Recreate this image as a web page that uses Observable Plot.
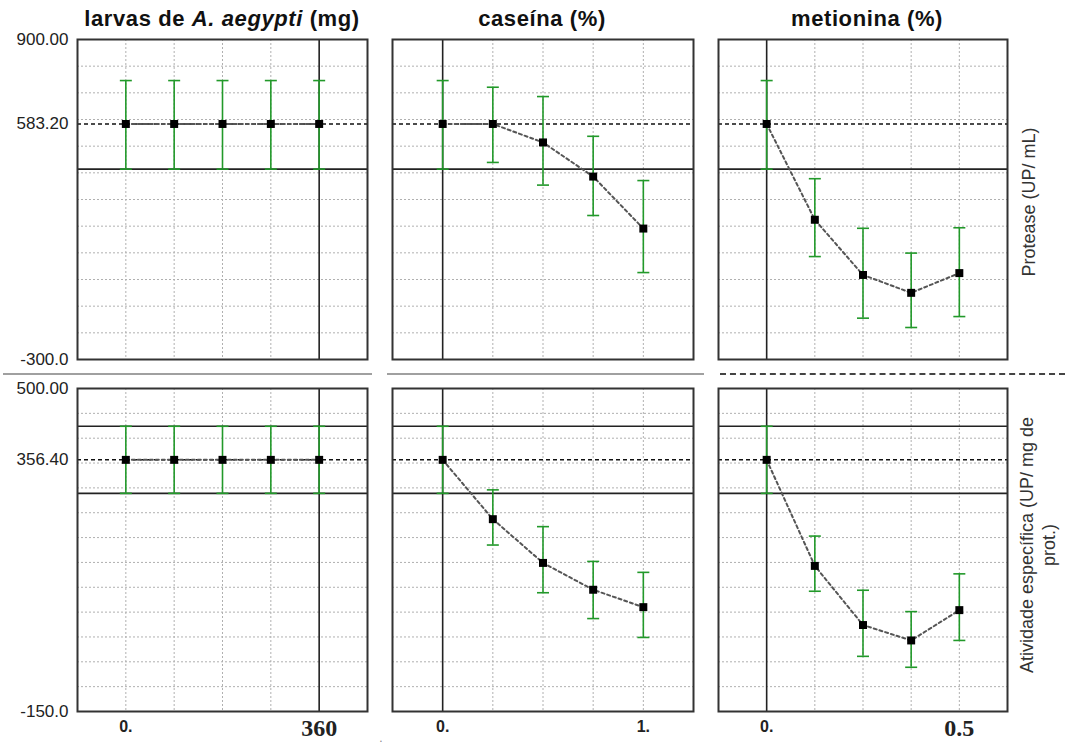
<!DOCTYPE html>
<html><head><meta charset="utf-8">
<script src="https://cdn.jsdelivr.net/npm/d3@7"></script>
<script src="https://cdn.jsdelivr.net/npm/@observablehq/plot@0.6"></script>
<style>
body{margin:0;background:#fff;}
#root{position:relative;width:1065px;height:749px;overflow:hidden;font-family:"Liberation Sans",Arial,sans-serif;color:#222;}
.lbl{position:absolute;white-space:nowrap;transform:translate(-50%,-50%);line-height:1;}
.panel{position:absolute;}
.sep{position:absolute;height:0;}
</style></head><body><div id="root"></div>
<script>
// ---------- data ----------
const larvaX = [0, 90, 180, 270, 360];
const caseinaX = [0, 0.25, 0.5, 0.75, 1];
const metioninaX = [0, 0.125, 0.25, 0.375, 0.5];

const larvaCurrent = 360, caseinaCurrent = 0, metioninaCurrent = 0;

// Protease (UP/ mL)
const proteaseMean = 583.2;
const proteaseCI = [414];
const proteaseLarva   = [583.2, 583.2, 583.2, 583.2, 583.2];
const proteaseLarvaLo = [414, 414, 414, 414, 414];
const proteaseLarvaHi = [746, 746, 746, 746, 746];
const proteaseCaseina   = [583.2, 583.2, 514, 386, 191];
const proteaseCaseinaLo = [414, 439, 354, 240, 26];
const proteaseCaseinaHi = [746, 721, 686, 537, 371];
const proteaseMetionina   = [583.2, 224, 17, -50, 24];
const proteaseMetioninaLo = [414, 86, -145, -180, -139];
const proteaseMetioninaHi = [746, 378, 192, 99, 194];

// Atividade específica (UP/ mg de prot.)
const atividadeMean = 356.4;
const atividadeCI = [424, 289];
const atividadeLarva   = [356.4, 356.4, 356.4, 356.4, 356.4];
const atividadeLarvaLo = [289, 289, 289, 289, 289];
const atividadeLarvaHi = [424, 424, 424, 424, 424];
const atividadeCaseina   = [356.4, 237, 149, 95, 60];
const atividadeCaseinaLo = [289, 185, 89, 37, -1];
const atividadeCaseinaHi = [424, 296, 222, 152, 130];
const atividadeMetionina   = [356.4, 143, 24, -7, 54];
const atividadeMetioninaLo = [289, 92, -39, -61, -7];
const atividadeMetioninaHi = [424, 203, 94, 51, 127];

const proteaseTicks = [900, 583.2, -300];
const proteaseTickLabels = ["900.00", "583.20", "-300.0"];
const atividadeTicks = [500, 356.4, -150];
const atividadeTickLabels = ["500.00", "356.40", "-150.0"];

const larvaTicks = [0, 360], larvaTickLabels = ["0.", "360"];
const caseinaTicks = [0, 1], caseinaTickLabels = ["0.", "1."];
const metioninaTicks = [0, 0.5], metioninaTickLabels = ["0.", "0.5"];

const titles = ["larvas de <i>A. aegypti</i> (mg)", "caseína (%)", "metionina (%)"];
const rowLabels = ["Protease (UP/ mL)", "Atividade específica (UP/ mg de<br>prot.)"];

// ---------- layout / style ----------
const root = document.getElementById("root");
const green = "#22992a";
const cap = {draw(ctx, size) { const r = Math.sqrt(size / Math.PI); ctx.moveTo(-r, 0); ctx.lineTo(r, 0); }};
const sans = "'Liberation Sans', Arial, sans-serif";
const narrow = "'Liberation Sans Narrow', 'Liberation Sans', Arial, sans-serif";
const serif = "'Liberation Serif', 'Times New Roman', serif";

const cols = [
  {xs: larvaX, domain: [-90, 450], current: larvaCurrent, left: 77, width: 290, ticks: larvaTicks, tickLabels: larvaTickLabels, lastBig: true},
  {xs: caseinaX, domain: [-0.25, 1.25], current: caseinaCurrent, left: 392, width: 301, ticks: caseinaTicks, tickLabels: caseinaTickLabels, lastBig: false},
  {xs: metioninaX, domain: [-0.125, 0.625], current: metioninaCurrent, left: 718, width: 289, ticks: metioninaTicks, tickLabels: metioninaTickLabels, lastBig: true}
];
const rows = [
  {domain: [-300, 900], top: 39, height: 320, grid: d3.range(-200, 801, 100), mean: proteaseMean, ci: proteaseCI,
   ys: [proteaseLarva, proteaseCaseina, proteaseMetionina], lo: [proteaseLarvaLo, proteaseCaseinaLo, proteaseMetioninaLo], hi: [proteaseLarvaHi, proteaseCaseinaHi, proteaseMetioninaHi],
   ticks: proteaseTicks, tickLabels: proteaseTickLabels},
  {domain: [-150, 500], top: 388, height: 323, grid: d3.range(-100, 451, 50), mean: atividadeMean, ci: atividadeCI,
   ys: [atividadeLarva, atividadeCaseina, atividadeMetionina], lo: [atividadeLarvaLo, atividadeCaseinaLo, atividadeMetioninaLo], hi: [atividadeLarvaHi, atividadeCaseinaHi, atividadeMetioninaHi],
   ticks: atividadeTicks, tickLabels: atividadeTickLabels}
];

rows.forEach((row, ri) => {
  cols.forEach((col, ci) => {
    const data = col.xs.map((x, i) => ({x, y: row.ys[ci][i], lo: row.lo[ci][i], hi: row.hi[ci][i]}));
    const hasY = ci === 0, hasX = ri === 1;
    const mL = hasY ? 77 : 3, mR = 3, mT = 3, mB = hasX ? 40 : 3;
    const marks = [
      Plot.gridX(col.xs.filter(x => x !== col.current), {stroke: "#b0b0b0", strokeOpacity: 1, strokeDasharray: "2,2"}),
      Plot.gridY(row.grid, {stroke: "#b0b0b0", strokeOpacity: 1, strokeDasharray: "2,2"}),
      Plot.ruleX([col.current], {stroke: "#222", strokeWidth: 1.6}),
      Plot.ruleY(row.ci, {stroke: "#222", strokeWidth: 1.6}),
      Plot.ruleY([row.mean], {stroke: "#111", strokeWidth: 1.5, strokeDasharray: "4,3"}),
      Plot.line(data, {x: "x", y: "y", stroke: "#555", strokeWidth: 2, strokeDasharray: "3,3"}),
      Plot.ruleX(data, {x: "x", y1: "lo", y2: "hi", stroke: green, strokeWidth: 1.6}),
      Plot.dot(data, {x: "x", y: "lo", symbol: cap, r: 6, stroke: green, fill: "none", strokeWidth: 1.6}),
      Plot.dot(data, {x: "x", y: "hi", symbol: cap, r: 6, stroke: green, fill: "none", strokeWidth: 1.6}),
      Plot.dot(data, {x: "x", y: "y", symbol: "square", r: 4.5, fill: "#000", stroke: "none"}),
      Plot.frame({stroke: "#333", strokeWidth: 2})
    ];
    if (hasY) {
      marks.push(Plot.axisY(row.ticks, {tickSize: 0, tickPadding: 9, label: null, tickFormat: d => row.tickLabels[row.ticks.indexOf(d)],
        fontSize: 17, fontFamily: sans, fill: "#222"}));
    }
    if (hasX) {
      marks.push(Plot.axisX([col.ticks[0]], {tickSize: 0, tickPadding: 9, label: null, tickFormat: () => col.tickLabels[0],
        fontSize: 16, fontFamily: narrow, fontWeight: "bold", fill: "#222"}));
      marks.push(Plot.axisX([col.ticks[1]], {tickSize: 0, tickPadding: col.lastBig ? 7 : 9, label: null, tickFormat: () => col.tickLabels[1],
        fontSize: col.lastBig ? 24 : 16, fontFamily: col.lastBig ? serif : narrow, fontWeight: "bold", fill: "#222"}));
    }
    const chart = Plot.plot({
      width: mL + col.width + mR, height: mT + row.height + mB,
      marginLeft: mL, marginRight: mR, marginTop: mT, marginBottom: mB,
      x: hasX ? {domain: col.domain, label: null} : {domain: col.domain, axis: null, label: null},
      y: hasY ? {domain: row.domain, label: null} : {domain: row.domain, axis: null, label: null},
      style: {background: "none", overflow: "visible", fontFamily: sans},
      marks
    });
    const div = document.createElement("div");
    div.className = "panel";
    div.style.left = (col.left - mL) + "px";
    div.style.top = (row.top - mT) + "px";
    div.appendChild(chart);
    root.appendChild(div);
  });
});

function label(html, x, y, css) {
  const d = document.createElement("div");
  d.className = "lbl";
  d.innerHTML = html;
  d.style.left = x + "px"; d.style.top = y + "px";
  Object.assign(d.style, css || {});
  root.appendChild(d);
  return d;
}
const titleCss = {fontWeight: "bold", fontSize: "22px", letterSpacing: "0.6px", color: "#111"};
label(titles[0], 222, 19, titleCss);
label(titles[1], 542, 19, titleCss);
label(titles[2], 867, 19, titleCss);
label(rowLabels[0], 1029, 202, {fontSize: "18px", transform: "translate(-50%,-50%) rotate(-90deg)", color: "#333"});
label(rowLabels[1], 1038, 545, {fontSize: "18px", lineHeight: "22px", textAlign: "center", transform: "translate(-50%,-50%) rotate(-90deg)", color: "#333"});
label(".", 381, 738, {fontSize: "12px", color: "#888"});

// separators between rows
function sep(x1, x2, y, css) {
  const d = document.createElement("div");
  d.className = "sep";
  d.style.left = x1 + "px"; d.style.width = (x2 - x1) + "px"; d.style.top = y + "px";
  Object.assign(d.style, css);
  root.appendChild(d);
}
sep(3, 372, 372.5, {borderTop: "2px solid #a0a0a0"});
sep(387, 704, 372.5, {borderTop: "2px solid #a0a0a0"});
sep(720, 1065, 373, {borderTop: "2px dashed #444"});
</script></body></html>
